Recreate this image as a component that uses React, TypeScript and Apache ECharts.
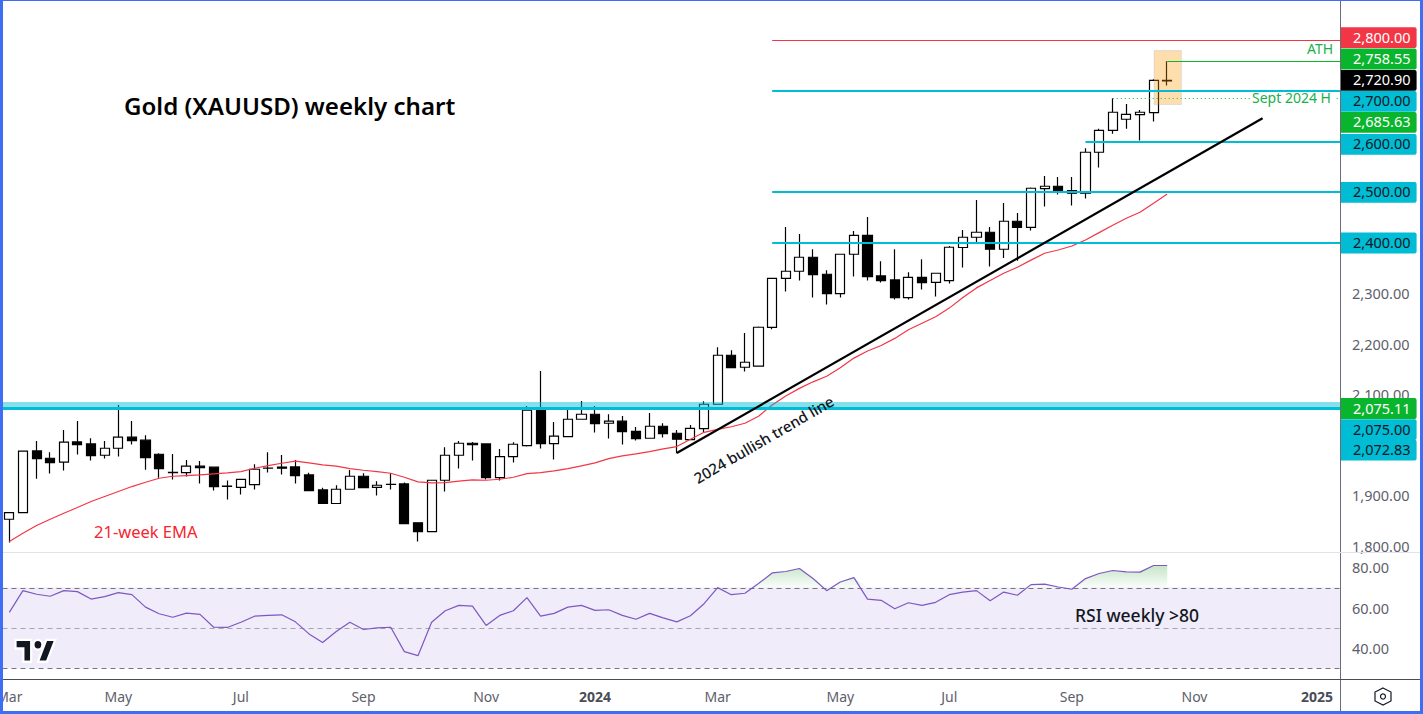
import React, { useEffect, useRef } from "react";
import * as echarts from "echarts";

const FONT = "'Noto Sans', sans-serif";
const WEEKS = 98;

const categories: string[] = [];
{
  const start = Date.UTC(2023, 1, 27);
  for (let i = 0; i < WEEKS; i++) categories.push(new Date(start + i * 7 * 864e5).toISOString().slice(0, 10));
}

const opens = [1852.9,1866,1988.2,1973.7,1965.8,2006,2002,1979.6,1993.5,2015.3,2009.4,1981.6,1945,1945,1957.9,1955.9,1918,1916,1921.6,1953.9,1955.9,1956.5,1940.7,1911,1884,1912.3,1938,1916,1922,1922.9,1845.7,1828.5,1930.1,1979.6,2003.4,2002,1935.4,1977,1998.8,2069,2002.7,2016.6,2050.9,2060.8,2043,2047,2027,2013.3,2037,2023.2,2010.7,2032.4,2080.6,2177.6,2153.9,2155.9,2233,2330,2344,2371.7,2338,2299.7,2377.6,2415.2,2334.7,2326.8,2291.8,2332,2322,2325.5,2391,2411.3,2421.2,2387.5,2443,2431,2507.6,2512.3,2503.7,2498.4,2579.6,2623,2645,2654,2658,2722];
const closes = [1866.1,1987.6,1973,1965,2005.4,2000.8,1979,1993.5,2015.3,2008.7,1975,1953,1945.5,1957.9,1955,1917.6,1918.5,1932,1951.9,1954,1953.9,1939.4,1909.7,1884,1912.3,1938,1915.6,1920.2,1922.2,1844.3,1828.5,1930.1,1979.6,2003.4,2000.8,1935.4,1977,2001.4,2069,2002.7,2017.3,2050.9,2060.8,2042.3,2047,2026.5,2012.6,2037,2022.5,2011.3,2033,2080.6,2177.6,2153.2,2163.8,2233.1,2330,2344,2371.7,2337.4,2299.7,2377.6,2415.2,2333.4,2325.5,2291.8,2332,2321.5,2340,2391.5,2411.3,2421.2,2387.5,2443,2431,2508.3,2512.3,2503,2498.4,2579.6,2623,2658.8,2654.8,2658.8,2722,2720.9];
const lows = [1806.7,1866,1933,1943.3,1949.3,1981,1969,1973,1977,2000.8,1951,1934.8,1931.4,1937.4,1923.5,1909.7,1891.9,1901.8,1911.7,1945.3,1941.4,1923.5,1909.7,1884,1884,1912.3,1914.3,1899.8,1911.7,1844,1808.7,1828.5,1907.7,1953.2,1969,1931.4,1929.5,1965,1996.8,1992.8,1971,2015.3,2050.9,2024.5,2012.6,2000.8,2008.7,2012.6,2014.6,1983.6,2010,2024.5,2080.6,2152,2145.3,2155.9,2229.1,2303.7,2325.5,2291.8,2278,2291.8,2333.4,2325.5,2321.5,2287.9,2287.9,2307.7,2293.8,2319.5,2351.2,2402,2353.2,2370.4,2365,2424.5,2472,2495.8,2474,2487.8,2549.2,2616.5,2626.4,2602.7,2640.3,2711.6];
const highs = [1866.1,1987.6,2008,1985.6,2029.8,2047.6,2013.3,2008,2079,2047.6,2019,1983.6,1982,1970,1968.4,1956,1929.5,1932,1961.8,1985.6,1980.3,1970.4,1944.7,1915,1920.2,1950.6,1944,1928,1944,1925.5,1846,1930.1,1995.5,2008,2006,2002,1992,2005.4,2077,2146.6,2045.6,2070,2087,2077.3,2060.8,2057.5,2035.7,2063.5,2043,2029.8,2039.7,2086.6,2193.5,2187.5,2221.9,2234.4,2330,2431.7,2417.9,2387.5,2346,2377.6,2423.8,2451.5,2363.8,2387.5,2342,2367.7,2340,2394,2425.8,2485.2,2431.7,2479.3,2459.5,2509.6,2532.7,2530.7,2530.7,2587.5,2626.4,2686.5,2675.3,2663.4,2724,2759.8];
const ema21 = [1808.7,1825,1840.4,1853,1864.8,1876,1887.9,1897.8,1907.7,1917.6,1926.2,1934,1938,1939.4,1940.7,1942.7,1944.7,1947.3,1953.9,1959,1963.8,1967.8,1964.5,1960.5,1957.9,1953.2,1949.9,1947.3,1944,1936,1926.8,1924.9,1925.5,1928.2,1930.8,1930.1,1932.1,1936,1943.3,1945.3,1948.6,1953.2,1958.5,1964.5,1973,1978.3,1982.3,1986.9,1992.2,1996.8,2011.3,2025,2031,2036,2043,2057,2079,2097,2112,2125,2136,2153,2172,2186,2197,2211,2228,2241,2254,2271,2292,2311,2325.5,2340,2351.9,2366,2379.6,2386,2394,2406,2420.5,2435,2449,2460.8,2478.6,2497];
const rsi = [57.7,68.5,66.7,65.7,68.5,68,64.3,65.5,67.5,66.5,60.3,57,55.3,57.3,56.7,50.3,50.2,52.8,55.8,56.2,56.5,53,47,42.7,48.2,52.8,49.2,50,50.3,38.2,36.2,52.8,58.5,61.2,60.8,51.2,56.2,58.5,65,55.8,57.2,60.3,61.2,58.7,59,56.2,54.3,57.2,55,53,56,62,70,66.5,67.2,72,77.3,78,79.5,74.5,68.5,72.8,75,64.3,63.7,59.5,62.5,61.2,62.7,66.5,67.8,68.5,63.5,67.8,66.2,71.5,71.7,70.3,69.2,74.5,77,78.5,77.8,77.7,81,81];

const priceTicks = [1800,1900,2100,2200,2300];
const rsiTicks = [40,60,80];
const timeTicks: Record<number, string> = { 0:"Mar",8:"May",17:"Jul",26:"Sep",35:"Nov",43:"2024",52:"Mar",61:"May",69:"Jul",78:"Sep",87:"Nov",96:"2025" };

const CYAN = "#00bcd4", RED = "#f23645", GREEN = "#0ab52e";
// [first week index, price, colour, width, dash]
const levels: [number, number, string, number, number[] | null][] = [
  [56, 2800, RED, 1, null],
  [85, 2758.55, GREEN, 1, null],
  [56, 2700, CYAN, 2, null],
  [81, 2685.63, "#12b84a", 1, [1, 3]],
  [79, 2600, CYAN, 2, null],
  [56, 2500, CYAN, 2, null],
  [56, 2400, CYAN, 2, null],
  [0, 2072.83, CYAN, 3, null],
];
// [label, background, text colour, centre of the tag on screen]
const tags: [string, string, string, number][] = [
  ["2,800.00", "#f23645", "#ffffff", 37.6],
  ["2,758.55", "#0ab52e", "#ffffff", 59],
  ["2,720.90", "#000000", "#ffffff", 80.3],
  ["2,700.00", "#00bcd4", "#131722", 101.3],
  ["2,685.63", "#0ab52e", "#ffffff", 122.3],
  ["2,600.00", "#00bcd4", "#131722", 144.3],
  ["2,500.00", "#00bcd4", "#131722", 192.3],
  ["2,400.00", "#00bcd4", "#131722", 243],
  ["2,075.11", "#0ab52e", "#ffffff", 408.5],
  ["2,075.00", "#00bcd4", "#131722", 429.7],
  ["2,072.83", "#00bcd4", "#131722", 450.2],
];

echarts.graphic.registerShape("tvlogo", echarts.graphic.extendPath(
  "M14 22H7V11H0V4h14v18zM28 22h-8l7.5-18h8L28 22zM24 8a4 4 0 1 1-8 0 4 4 0 0 1 8 0z", {}) as any);

const PLOT_RIGHT = 1340;

function buildOption(): any {
  const candle = categories.slice(0, 86).map((_, i) => [opens[i], closes[i], lows[i], highs[i]]);
  const pad = categories.slice(86).map(() => "-");
  const fmt = (v: number) => v.toLocaleString("en-US", { minimumFractionDigits: 2, maximumFractionDigits: 2 });
  const axisBase = { type: "category", data: categories, boundaryGap: true, axisTick: { show: false }, splitLine: { show: false } };
  const yBase = { type: "value", position: "right", scale: false, splitLine: { show: false }, axisTick: { show: false }, axisLine: { show: false } };
  const labelStyle = { color: "#5d606b", fontFamily: FONT, fontSize: 14.5, margin: 14.5, align: "left", padding: [0, 0, 2, 0], showMinLabel: true, showMaxLabel: true };

  const tagEls: any[] = [];
  tags.forEach(([t, bg, fg, cy]) => {
    tagEls.push({ type: "rect", z: 100, shape: { x: 1341, y: cy - 10.4, width: 75.6, height: 20.8, r: [0, 2, 2, 0] }, style: { fill: bg } });
    tagEls.push({ type: "text", z: 101, x: 1353, y: cy - 1, style: { text: t, fill: fg, font: `14.5px ${FONT}`, textVerticalAlign: "middle", textAlign: "left" } });
  });

  return {
    animation: false,
    backgroundColor: "#ffffff",
    grid: [
      { left: 2.5, width: 1335, top: 3, height: 549, outerBoundsMode: "none" },
      { left: 2.5, width: 1335, top: 553, height: 126, outerBoundsMode: "none" },
    ],
    xAxis: [
      { ...axisBase, gridIndex: 0, axisLine: { show: false }, axisLabel: { show: false } },
      {
        ...axisBase, gridIndex: 1, axisLine: { show: false },
        axisLabel: {
          interval: (i: number) => timeTicks[i] !== undefined,
          formatter: (_: string, i: number) => {
            const t = timeTicks[i];
            return t === "2024" || t === "2025" ? `{b|${t}}` : t;
          },
          color: "#5d606b", fontFamily: FONT, fontSize: 14, margin: 10,
          rich: { b: { fontWeight: 700, color: "#4a4d57", fontFamily: FONT, fontSize: 14 } },
        },
      },
    ],
    yAxis: [
      { ...yBase, gridIndex: 0, min: 1788, max: 2875.2, axisLabel: { ...labelStyle, customValues: priceTicks, formatter: fmt } },
      { ...yBase, gridIndex: 1, min: 24.6, max: 87.2, axisLabel: { ...labelStyle, customValues: rsiTicks, formatter: fmt } },
    ],
    series: [
      {
        type: "custom", name: "RSI band", xAxisIndex: 1, yAxisIndex: 1, z: 1, silent: true,
        data: [[30, 70]],
        renderItem: (p: any, api: any) => {
          const y1 = api.coord([0, api.value(1)])[1], y2 = api.coord([0, api.value(0)])[1];
          return { type: "rect", shape: { x: p.coordSys.x, y: y1, width: PLOT_RIGHT - p.coordSys.x, height: y2 - y1 }, style: { fill: "#f0ecf9" } };
        },
      },
      {
        type: "custom", name: "RSI levels", xAxisIndex: 1, yAxisIndex: 1, z: 2, silent: true,
        data: [[70], [50], [30]],
        renderItem: (p: any, api: any) => {
          const y = Math.round(api.coord([0, api.value(0)])[1]) + 0.5;
          const mid = api.value(0) === 50;
          return { type: "line", shape: { x1: p.coordSys.x, y1: y, x2: PLOT_RIGHT, y2: y }, style: { stroke: mid ? "#a7a4ad" : "#77757c", lineWidth: 1, lineDash: [5, 4] } };
        },
      },
      {
        type: "line", name: "RSI overbought", xAxisIndex: 1, yAxisIndex: 1, z: 3, silent: true, symbol: "none",
        data: rsi.map((v) => Math.max(v, 70)),
        lineStyle: { opacity: 0 },
        areaStyle: {
          origin: 70, opacity: 1,
          color: new echarts.graphic.LinearGradient(0, 0, 0, 1, [
            { offset: 0, color: "rgba(76,175,80,0.32)" },
            { offset: 1, color: "rgba(76,175,80,0.03)" },
          ]),
        },
      },
      {
        type: "line", name: "RSI", xAxisIndex: 1, yAxisIndex: 1, z: 4, symbol: "none", data: rsi,
        lineStyle: { color: "#7e57c2", width: 1.2 }, silent: true,
      },
      {
        type: "candlestick", name: "XAUUSD", xAxisIndex: 0, yAxisIndex: 0, z: 3, barWidth: 9.6, data: [...candle, ...pad],
        itemStyle: { color: "#ffffff", color0: "#000000", borderColor: "#000000", borderColor0: "#000000", borderWidth: 1.2 },
      },
      {
        type: "line", name: "21-week EMA", xAxisIndex: 0, yAxisIndex: 0, z: 4, symbol: "none", data: ema21,
        lineStyle: { color: RED, width: 1.2 }, silent: true,
      },
      {
        type: "custom", name: "Support band", xAxisIndex: 0, yAxisIndex: 0, z: 5, silent: true,
        data: [[2071, 2085]],
        renderItem: (p: any, api: any) => {
          const y1 = api.coord([0, api.value(1)])[1], y2 = api.coord([0, api.value(0)])[1];
          return { type: "rect", shape: { x: p.coordSys.x, y: y1, width: PLOT_RIGHT - p.coordSys.x, height: y2 - y1 }, style: { fill: "rgba(0,188,212,0.47)" } };
        },
      },
      {
        type: "custom", name: "ATH zone", xAxisIndex: 0, yAxisIndex: 0, z: 5, silent: true,
        data: [[84, 2781, 86, 2674]],
        renderItem: (_: any, api: any) => {
          const a = api.coord([api.value(0), api.value(1)]), b = api.coord([api.value(2), api.value(3)]);
          return { type: "rect", shape: { x: a[0] + 0.5, y: a[1], width: b[0] - a[0], height: b[1] - a[1] }, style: { fill: "rgba(255,152,0,0.32)", stroke: "rgba(120,140,200,0.2)", lineWidth: 1 } };
        },
      },
      {
        type: "custom", name: "Levels", xAxisIndex: 0, yAxisIndex: 0, z: 6, silent: true,
        data: levels.map((l, i) => [l[0], l[1], i]),
        renderItem: (p: any, api: any) => {
          const l = levels[api.value(2)];
          const c = api.coord([api.value(0), api.value(1)]);
          const y = l[3] % 2 ? Math.floor(c[1]) + 0.5 : Math.round(c[1]);
          const x1 = l[0] === 0 ? p.coordSys.x : c[0];
          return { type: "line", shape: { x1, y1: y, x2: PLOT_RIGHT, y2: y }, style: { stroke: l[2], lineWidth: l[3], lineDash: l[4] || undefined } };
        },
      },
      {
        type: "custom", name: "2024 bullish trend line", xAxisIndex: 0, yAxisIndex: 0, z: 7, silent: true,
        data: [[49, 1984, 92, 2647]],
        renderItem: (_: any, api: any) => {
          const a = api.coord([api.value(0), api.value(1)]), b = api.coord([api.value(2), api.value(3)]);
          return { type: "line", shape: { x1: a[0], y1: a[1], x2: b[0], y2: b[1] }, style: { stroke: "#000000", lineWidth: 2.2 } };
        },
      },
    ],
    graphic: [
      { type: "text", z: 90, x: 124, y: 105.5, style: { text: "Gold (XAUUSD) weekly chart", fill: "#000000", font: `600 24.1px ${FONT}`, textVerticalAlign: "middle" } },
      { type: "text", z: 90, x: 94, y: 531, style: { text: "21-week EMA", fill: "#f7252f", font: `16.5px ${FONT}`, textVerticalAlign: "middle" } },
      { type: "text", z: 90, x: 695, y: 479, rotation: 0.525, originX: 0, originY: 0, style: { text: "2024 bullish trend line", fill: "#131722", font: `500 15px ${FONT}`, textVerticalAlign: "middle" } },
      { type: "text", z: 90, x: 1075, y: 615, style: { text: "RSI weekly >80", fill: "#131722", font: `500 17.5px ${FONT}`, textVerticalAlign: "middle" } },
      { type: "text", z: 90, x: 1307, y: 48, style: { text: "ATH", fill: "#17b14a", font: `14px ${FONT}`, textVerticalAlign: "middle" } },
      { type: "rect", z: 80, shape: { x: 1250, y: 92, width: 85, height: 12 }, style: { fill: "#ffffff" } },
      { type: "text", z: 90, x: 1252, y: 97, style: { text: "Sept 2024 H", fill: "#17b14a", font: `14px ${FONT}`, textVerticalAlign: "middle" } },
      { type: "line", z: 70, shape: { x1: 1340.5, y1: 0, x2: 1340.5, y2: 711 }, style: { stroke: "#6a6d78", lineWidth: 1 } },
      { type: "line", z: 70, shape: { x1: 3, y1: 552.5, x2: 1420, y2: 552.5 }, style: { stroke: "#e0e3eb", lineWidth: 1 } },
      { type: "line", z: 70, shape: { x1: 3, y1: 679.5, x2: 1420, y2: 679.5 }, style: { stroke: "#4a4d57", lineWidth: 1 } },
      { type: "tvlogo", z: 60, x: 15.5, y: 635, scaleX: 1.12, scaleY: 1.22, style: { fill: "#131722", stroke: "#ffffff", lineWidth: 2 } },
      {
        type: "polygon", z: 90,
        shape: { points: [[1383, 688], [1391, 692], [1391, 701], [1383, 705], [1375, 701], [1375, 692]] },
        style: { fill: "none", stroke: "#131722", lineWidth: 1.2 },
      },
      { type: "circle", z: 90, shape: { cx: 1383, cy: 696.5, r: 2.5 }, style: { fill: "none", stroke: "#131722", lineWidth: 1.2 } },
      ...tagEls,
      { type: "rect", z: 120, shape: { x: 0, y: 0, width: 3, height: 714 }, style: { fill: "#3d6ef5" } },
      { type: "rect", z: 120, shape: { x: 1420, y: 0, width: 3, height: 714 }, style: { fill: "#3d6ef5" } },
      { type: "rect", z: 120, shape: { x: 0, y: 711, width: 1423, height: 3 }, style: { fill: "#3d6ef5" } },
      { type: "rect", z: 120, shape: { x: 0, y: 0, width: 1423, height: 1 }, style: { fill: "#3d6ef5" } },
    ],
  };
}

export default function App() {
  const ref = useRef<HTMLDivElement>(null);
  useEffect(() => {
    document.body.style.margin = "0";
    const chart = echarts.init(ref.current!, null, { renderer: "svg" });
    chart.setOption(buildOption());
    return () => chart.dispose();
  }, []);
  return <div ref={ref} style={{ width: 1423, height: 714 }} />;
}
